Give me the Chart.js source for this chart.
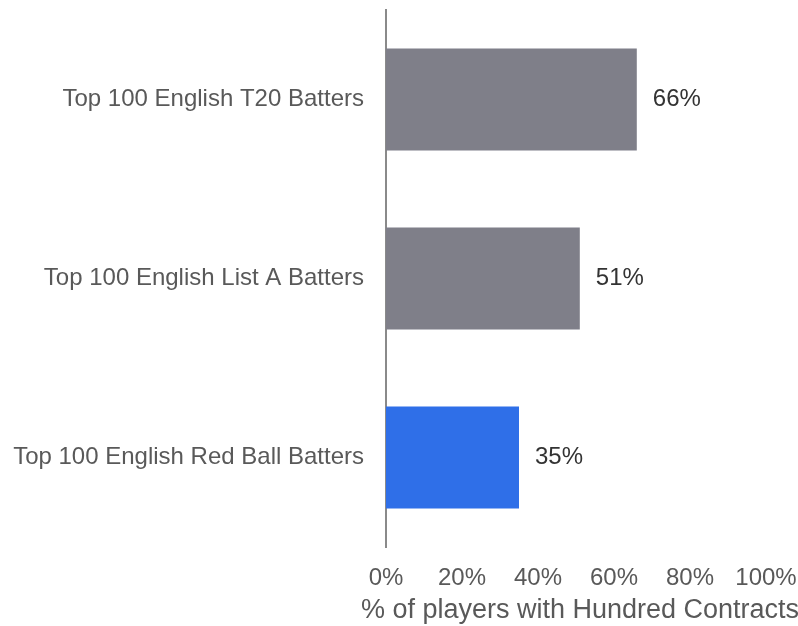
<!DOCTYPE html>
<html>
<head>
<meta charset="utf-8">
<script src="https://cdn.jsdelivr.net/npm/chart.js@4"></script>
<style>
  html, body { margin: 0; padding: 0; background: #fff; }
  #wrap { width: 798px; height: 626px; }
</style>
</head>
<body>
<div id="wrap"><canvas id="grafico" width="798" height="626"></canvas></div>
<script>
const categorias = ['Top 100 English T20 Batters', 'Top 100 English List A Batters', 'Top 100 English Red Ball Batters'];
const porcentajes = [66, 51, 35];
const colores = ['#7f7f89', '#7f7f89', '#2f6fe8'];
const ticksX = [0, 20, 40, 60, 80, 100];
const tituloX = '% of players with Hundred Contracts';

const fuente = "'Liberation Sans', Arial, sans-serif";

// etiquetas de valor al final de cada barra + titulo del eje x (mas ancho que el area)
const etiquetasValor = {
  id: 'etiquetasValor',
  afterDatasetsDraw(chart) {
    const ctx = chart.ctx;
    const meta = chart.getDatasetMeta(0);
    ctx.save();
    ctx.font = '24px ' + fuente;
    ctx.fillStyle = '#333333';
    ctx.textAlign = 'left';
    ctx.textBaseline = 'middle';
    meta.data.forEach((bar, i) => {
      ctx.fillText(porcentajes[i] + '%', bar.x + 16, bar.y);
    });
    const ejeX = chart.scales.x;
    ctx.font = '27px ' + fuente;
    ctx.fillStyle = '#595959';
    ctx.textAlign = 'center';
    ctx.fillText(tituloX, (ejeX.left + ejeX.right) / 2 + 4, ejeX.bottom - 15);
    ctx.restore();
  }
};

new Chart(document.getElementById('grafico'), {
  type: 'bar',
  data: {
    labels: categorias,
    datasets: [{
      data: porcentajes,
      backgroundColor: colores,
      barPercentage: 0.57,
      categoryPercentage: 1
    }]
  },
  plugins: [etiquetasValor],
  options: {
    indexAxis: 'y',
    responsive: false,
    animation: false,
    layout: { padding: { top: 10, right: 32, left: 0, bottom: 0 } },
    plugins: {
      legend: { display: false },
      tooltip: { enabled: false }
    },
    scales: {
      x: {
        min: 0,
        max: 100,
        afterBuildTicks: s => { s.ticks = ticksX.map(v => ({ value: v })); },
        grid: { display: false, drawTicks: false },
        border: { display: false },
        ticks: {
          callback: v => v + '%',
          color: '#595959',
          font: { family: fuente, size: 24 },
          padding: 17,
          maxRotation: 0,
          autoSkip: false
        },
        title: { display: false },
        afterFit: s => { s.height = 79; s.paddingLeft = 0; s.paddingRight = 0; }
      },
      y: {
        grid: { display: false, drawTicks: false },
        border: { display: true, color: '#8a8a8a', width: 2 },
        ticks: {
          color: '#595959',
          font: { family: fuente, size: 24 },
          padding: 22
        },
        afterFit: s => { s.width = 386; s.paddingTop = 0; s.paddingBottom = 0; }
      }
    }
  }
});
</script>
</body>
</html>
